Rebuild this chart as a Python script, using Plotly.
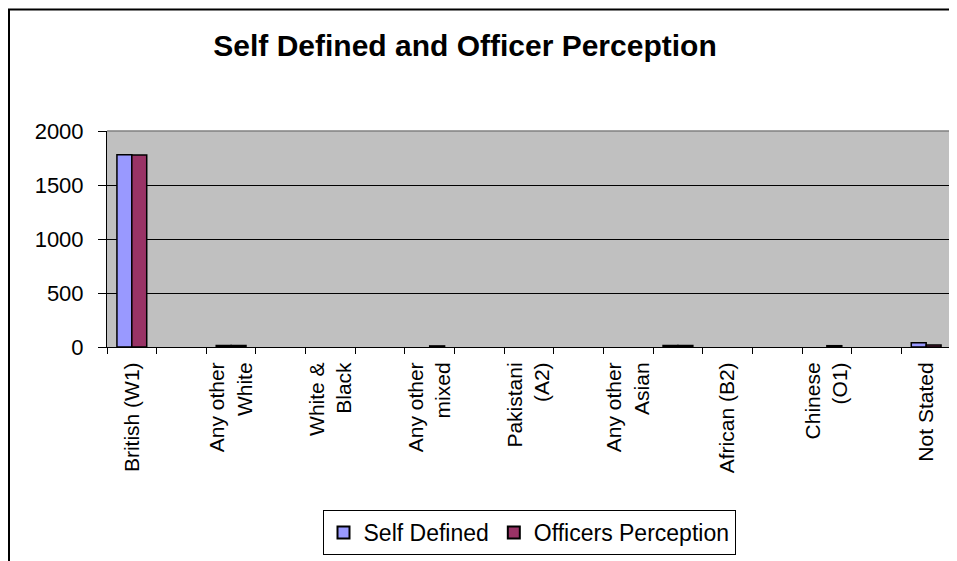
import plotly.graph_objects as go

# 17 ethnicity codes; Excel only printed every other label
categories = [
    "British (W1)", "Irish (W2)", "Any other White",
    "White & Black Caribbean", "White & Black", "White & Asian",
    "Any other mixed", "Indian (A1)", "Pakistani (A2)", "Bangladeshi (A3)",
    "Any other Asian", "Caribbean (B1)", "African (B2)", "Any other Black",
    "Chinese (O1)", "Any other (O9)", "Not Stated",
]
tick_labels = [
    "British (W1)", "", "Any other<br>White",
    "", "White &<br>Black", "",
    "Any other<br>mixed", "", "Pakistani<br>(A2)", "",
    "Any other<br>Asian", "", "African (B2)", "",
    "Chinese<br>(O1)", "", "Not Stated",
]
self_defined = [1780, 0, 15, 0, 0, 0, 0, 0, 0, 0, 0, 15, 0, 0, 0, 0, 40]
officers_perception = [1778, 0, 15, 0, 0, 0, 10, 0, 0, 0, 0, 15, 0, 0, 12, 0, 18]

W, H = 957, 561
OFF = 8  # page body margin
L, R, T, B = 107 - OFF, 6 + OFF, 131 - OFF, 214 + OFF
pw, ph = W - L - R, H - T - B


def px_x(px):
    # screen pixel -> paper fraction
    return (px - OFF - L) / pw


def px_y(py):
    return (H - B - (py - OFF)) / ph


def outline(values):
    # zero bars have no visible outline in the original
    return [1.5 if v else 0 for v in values]


fig = go.Figure()
fig.add_trace(go.Bar(
    x=categories, y=self_defined, name="Self Defined",
    marker=dict(color="#9999FF", line=dict(color="black", width=outline(self_defined))),
))
fig.add_trace(go.Bar(
    x=categories, y=officers_perception, name="Officers Perception",
    marker=dict(color="#993366", line=dict(color="black", width=outline(officers_perception))),
))

fig.update_layout(
    template="none",
    width=W,
    height=H,
    margin=dict(l=L, r=R, t=T, b=B, autoexpand=False),
    paper_bgcolor="white",
    plot_bgcolor="#C0C0C0",
    font=dict(family="Arial, Liberation Sans, sans-serif", color="black"),
    barmode="group",
    bargap=0.4,
    bargroupgap=0,
    title=dict(
        text="<b>Self Defined and Officer Perception</b>",
        font=dict(size=30, color="black"),
        x=(465 - OFF) / W, xanchor="center",
        y=1 - (45 - OFF) / H, yanchor="middle",
    ),
    legend=dict(
        orientation="h",
        x=0.5, xanchor="center",
        y=px_y(510), yanchor="top",
        bordercolor="black", borderwidth=1,
        font=dict(size=23),
        itemsizing="constant",
        traceorder="normal",
    ),
    showlegend=True,
)

fig.update_xaxes(
    type="category",
    automargin=False,
    tickmode="array",
    tickvals=categories,
    ticktext=tick_labels,
    tickson="boundaries",
    ticks="outside",
    ticklen=6,
    tickcolor="black",
    tickangle=-90,
    tickfont=dict(size=21),
    ticklabelstandoff=6,
    showline=True,
    linecolor="black",
    linewidth=1,
    showgrid=False,
)
fig.update_yaxes(
    automargin=False,
    range=[0, 2000],
    tickvals=[0, 500, 1000, 1500, 2000],
    ticks="outside",
    ticklen=8,
    tickcolor="black",
    tickfont=dict(size=22),
    ticklabelstandoff=10,
    showline=True,
    linecolor="black",
    linewidth=1,
    showgrid=True,
    gridcolor="black",
    gridwidth=1,
    zeroline=False,
)

# gray top/right edges of the plot area
fig.add_shape(type="line", xref="paper", yref="paper", x0=0, x1=1, y0=1, y1=1,
              line=dict(color="#808080", width=1.5))
fig.add_shape(type="line", xref="paper", yref="paper", x0=1, x1=1, y0=0, y1=1,
              line=dict(color="#808080", width=1.5))
# outer chart frame, cut off at the right and bottom
fig.add_shape(type="rect", xref="paper", yref="paper",
              x0=px_x(9), x1=px_x(W + 20), y0=px_y(H + 20), y1=px_y(9.5),
              line=dict(color="black", width=2))

fig.write_html("out.html")
